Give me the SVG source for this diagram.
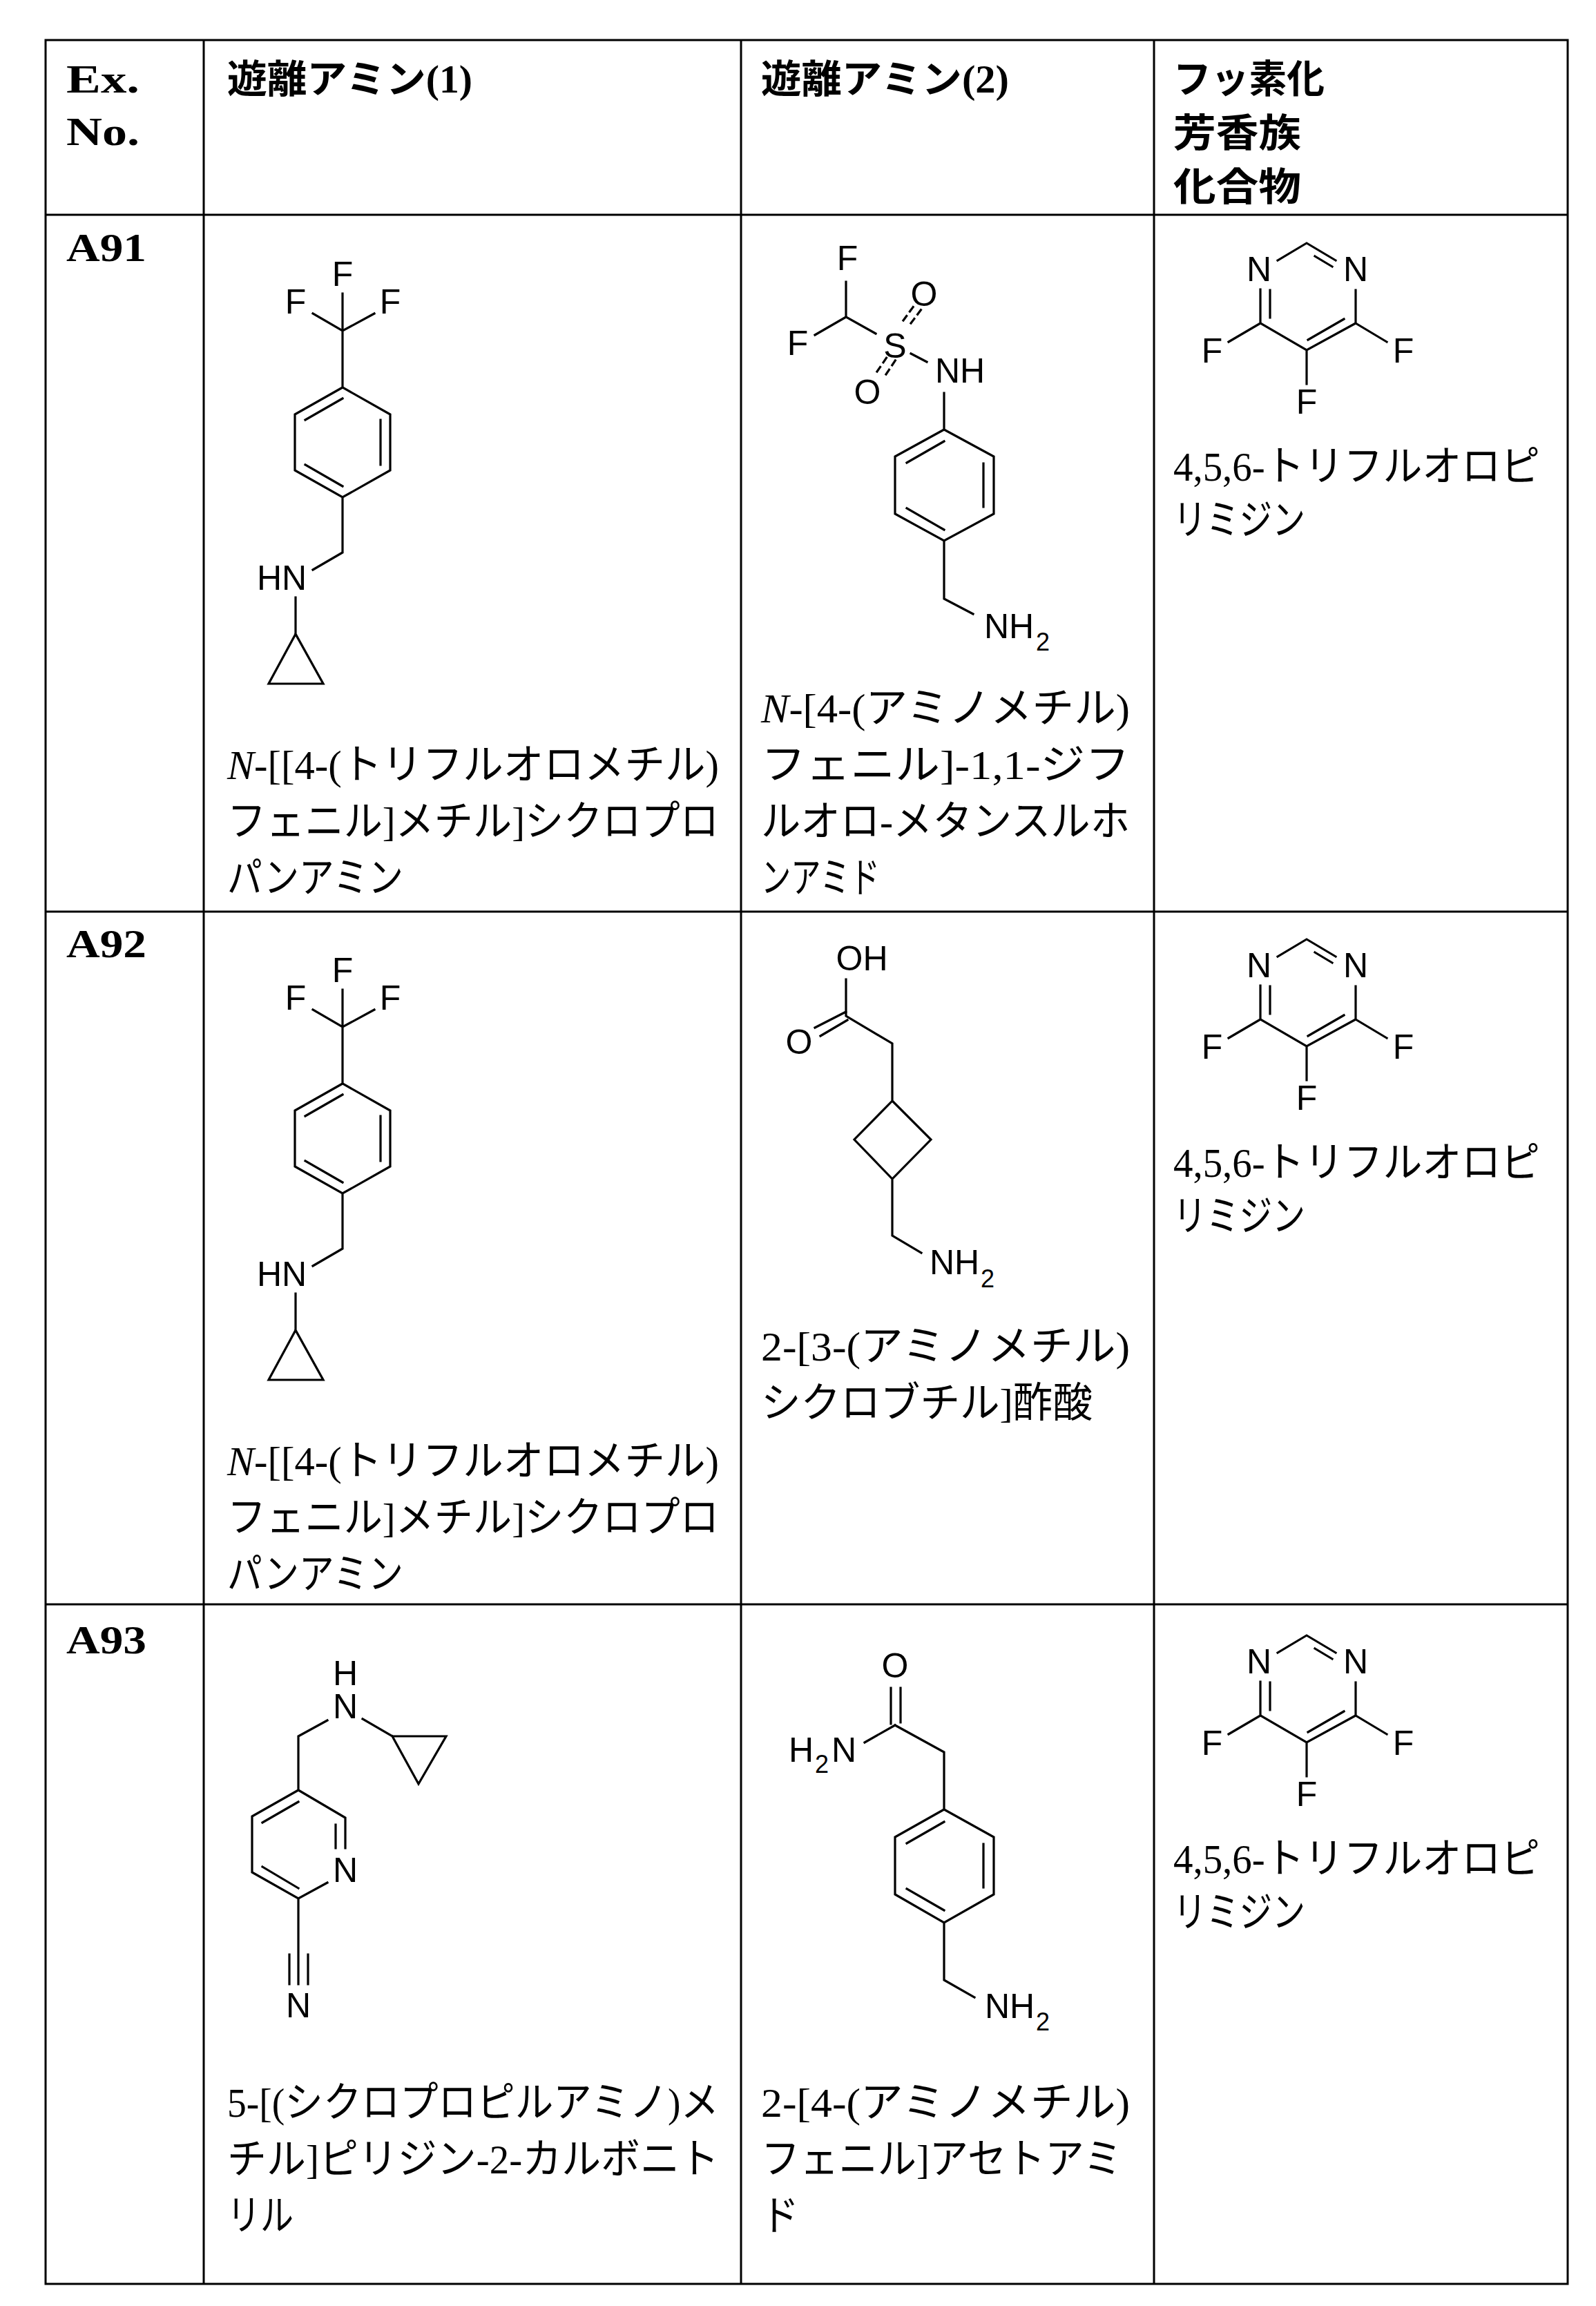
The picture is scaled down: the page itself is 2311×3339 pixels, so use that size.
<svg xmlns="http://www.w3.org/2000/svg" width="2311" height="3339" viewBox="0 0 2311 3339">
<style>
.grid{stroke:#000;stroke-width:3;fill:none}
.b{stroke:#000;stroke-width:3.2;fill:none;stroke-linecap:square;stroke-linejoin:miter}
.l{font-family:"Liberation Sans",Arial,sans-serif;font-size:50px;text-anchor:middle;fill:#000}
.s{font-family:"Liberation Sans",Arial,sans-serif;font-size:36px;text-anchor:middle;fill:#000}
.t{font-family:"Liberation Serif","Noto Sans CJK JP",serif;font-size:60px;fill:#000}
.h{font-family:"Liberation Serif","Noto Sans CJK JP",serif;font-size:56px;font-weight:bold;fill:#000}
</style>
<rect width="2311" height="3339" fill="#fff"/>
<g id="table" class="grid">
<rect x="66" y="58" width="2204" height="3249"/>
<line x1="295" y1="58" x2="295" y2="3307"/>
<line x1="1073" y1="58" x2="1073" y2="3307"/>
<line x1="1671" y1="58" x2="1671" y2="3307"/>
<line x1="66" y1="311" x2="2270" y2="311"/>
<line x1="66" y1="1320" x2="2270" y2="1320"/>
<line x1="66" y1="2323" x2="2270" y2="2323"/>
</g>
<g id="header">
<text class="h" x="96" y="134" textLength="106" lengthAdjust="spacingAndGlyphs">Ex.</text>
<text class="h" x="96" y="210" textLength="106" lengthAdjust="spacingAndGlyphs">No.</text>
<text class="h" x="329" y="134" textLength="355" lengthAdjust="spacingAndGlyphs">遊離アミン(1)</text>
<text class="h" x="1102" y="134" textLength="359" lengthAdjust="spacingAndGlyphs">遊離アミン(2)</text>
<text class="h" x="1699" y="134" textLength="219" lengthAdjust="spacingAndGlyphs">フッ素化</text>
<text class="h" x="1699" y="212" textLength="185" lengthAdjust="spacingAndGlyphs">芳香族</text>
<text class="h" x="1699" y="290" textLength="185" lengthAdjust="spacingAndGlyphs">化合物</text>
</g>
<g id="ex-ids">
<text class="h" x="96" y="378" textLength="116" lengthAdjust="spacingAndGlyphs">A91</text>
<text class="h" x="96" y="1386" textLength="116" lengthAdjust="spacingAndGlyphs">A92</text>
<text class="h" x="96" y="2394" textLength="116" lengthAdjust="spacingAndGlyphs">A93</text>
</g>
<defs>
<g id="m1">
<path class="b" d="M496,425 L496,561 M453,454 L496,479 L542,454 M496,561 L565,600 L565,681 L496,720 L427,681 L427,600 L496,561 M442,608 L496,577 M551,608 L551,673 M442,673 L496,704 M496,720 L496,800 L453,825 M428,865 L428,918 L389,990 L468,990 L428,918"/>
<text class="l" x="496" y="414">F</text>
<text class="l" x="428" y="454">F</text>
<text class="l" x="565" y="454">F</text>
<text class="l" x="408" y="854">HN</text>
<text class="t" x="329" y="1128" textLength="712" lengthAdjust="spacingAndGlyphs"><tspan font-style="italic">N</tspan>-[[4-(トリフルオロメチル)</text>
<text class="t" x="329" y="1210" textLength="712" lengthAdjust="spacingAndGlyphs">フェニル]メチル]シクロプロ</text>
<text class="t" x="329" y="1292" textLength="255" lengthAdjust="spacingAndGlyphs">パンアミン</text>
</g>
<g id="m3">
<path class="b" d="M1850,377 L1892,352 L1934,377 M1904,371 L1929,386 M1825,419 L1825,468 M1839,420 L1839,460 M1963,420 L1963,468 M1825,468 L1892,507 L1963,468 M1894,492 L1946,462 M1825,468 L1779,495 M1963,468 L2008,495 M1892,507 L1892,556"/>
<text class="l" x="1823" y="407">N</text>
<text class="l" x="1963" y="407">N</text>
<text class="l" x="1755" y="525">F</text>
<text class="l" x="2032" y="525">F</text>
<text class="l" x="1892" y="599">F</text>
<text class="t" x="1699" y="696" textLength="531" lengthAdjust="spacingAndGlyphs">4,5,6-トリフルオロピ</text>
<text class="t" x="1699" y="774" textLength="191" lengthAdjust="spacingAndGlyphs">リミジン</text>
</g>
</defs>
<g id="A91-amine1"><use href="#m1"/></g>
<g id="A92-amine1"><use href="#m1" transform="translate(0,1008)"/></g>
<g id="A91-fluoro"><use href="#m3"/></g>
<g id="A92-fluoro"><use href="#m3" transform="translate(0,1008)"/></g>
<g id="A93-fluoro"><use href="#m3" transform="translate(0,2016)"/></g>
<g id="A91-amine2">
<path class="b" d="M1225,408 L1225,459 L1180,485 M1225,459 L1268,483 M1319,512 L1342,524 M1367,569 L1367,622 L1439,661 L1439,744 L1367,783 L1296,744 L1296,661 L1367,622 M1313,670 L1367,639 M1424,671 L1424,734 M1313,736 L1367,767 M1367,783 L1367,867 L1409,889"/>
<path class="b" stroke-dasharray="8 8" d="M1308,464 L1324,442 M1319,468 L1334,448 M1270,538 L1285,516 M1283,542 L1297,521"/>
<text class="l" x="1227" y="391">F</text>
<text class="l" x="1155" y="514">F</text>
<text class="l" x="1296" y="518">S</text>
<text class="l" x="1338" y="443">O</text>
<text class="l" x="1256" y="585">O</text>
<text class="l" x="1390" y="554">NH</text>
<text class="l" x="1461" y="924">NH</text>
<text class="s" x="1510" y="942">2</text>
<text class="t" x="1102" y="1046" textLength="534" lengthAdjust="spacingAndGlyphs"><tspan font-style="italic">N</tspan>-[4-(アミノメチル)</text>
<text class="t" x="1102" y="1128" textLength="534" lengthAdjust="spacingAndGlyphs">フェニル]-1,1-ジフ</text>
<text class="t" x="1102" y="1210" textLength="534" lengthAdjust="spacingAndGlyphs">ルオロ-メタンスルホ</text>
<text class="t" x="1102" y="1292" textLength="172" lengthAdjust="spacingAndGlyphs">ンアミド</text>
</g>
<g id="A92-amine2">
<path class="b" d="M1225,1418 L1225,1471 L1292,1511 L1292,1594 L1348,1650 L1292,1707 L1237,1650 L1292,1594 M1225,1465 L1180,1488 M1227,1477 L1188,1500 M1292,1707 L1292,1789 L1334,1814"/>
<text class="l" x="1248" y="1405">OH</text>
<text class="l" x="1157" y="1526">O</text>
<text class="l" x="1382" y="1845">NH</text>
<text class="s" x="1430" y="1864">2</text>
<text class="t" x="1102" y="1970" textLength="534" lengthAdjust="spacingAndGlyphs">2-[3-(アミノメチル)</text>
<text class="t" x="1102" y="2052" textLength="480" lengthAdjust="spacingAndGlyphs">シクロブチル]酢酸</text>
</g>
<g id="A93-amine1">
<path class="b" d="M474,2491 L432,2514 L432,2592 L500,2632 L500,2676 M486,2642 L486,2676 M474,2726 L432,2749 L365,2711 L365,2630 L432,2592 M380,2639 L432,2609 M380,2703 L432,2734 M432,2749 L432,2873 M419,2830 L419,2873 M446,2830 L446,2873 M525,2489 L568,2514 L646,2514 L606,2583 L568,2514"/>
<text class="l" x="500" y="2440">H</text>
<text class="l" x="500" y="2488">N</text>
<text class="l" x="500" y="2725">N</text>
<text class="l" x="432" y="2921">N</text>
<text class="t" x="329" y="3065" textLength="712" lengthAdjust="spacingAndGlyphs">5-[(シクロプロピルアミノ)メ</text>
<text class="t" x="329" y="3147" textLength="712" lengthAdjust="spacingAndGlyphs">チル]ピリジン-2-カルボニト</text>
<text class="t" x="329" y="3229" textLength="96" lengthAdjust="spacingAndGlyphs">リル</text>
</g>
<g id="A93-amine2">
<path class="b" d="M1290,2444 L1290,2496 M1304,2444 L1304,2494 M1296,2498 L1252,2523 M1296,2498 L1367,2537 L1367,2620 L1439,2660 L1439,2743 L1367,2784 L1296,2743 L1296,2660 L1367,2620 M1313,2669 L1367,2638 M1424,2670 L1424,2733 M1313,2735 L1367,2766 M1367,2784 L1367,2867 L1411,2892"/>
<text class="l" x="1296" y="2429">O</text>
<text class="l" x="1160" y="2551">H</text>
<text class="s" x="1190" y="2567">2</text>
<text class="l" x="1222" y="2551">N</text>
<text class="l" x="1462" y="2922">NH</text>
<text class="s" x="1510" y="2940">2</text>
<text class="t" x="1102" y="3065" textLength="534" lengthAdjust="spacingAndGlyphs">2-[4-(アミノメチル)</text>
<text class="t" x="1102" y="3147" textLength="523" lengthAdjust="spacingAndGlyphs">フェニル]アセトアミ</text>
<text class="t" x="1102" y="3229" textLength="55" lengthAdjust="spacingAndGlyphs">ド</text>
</g>
</svg>
